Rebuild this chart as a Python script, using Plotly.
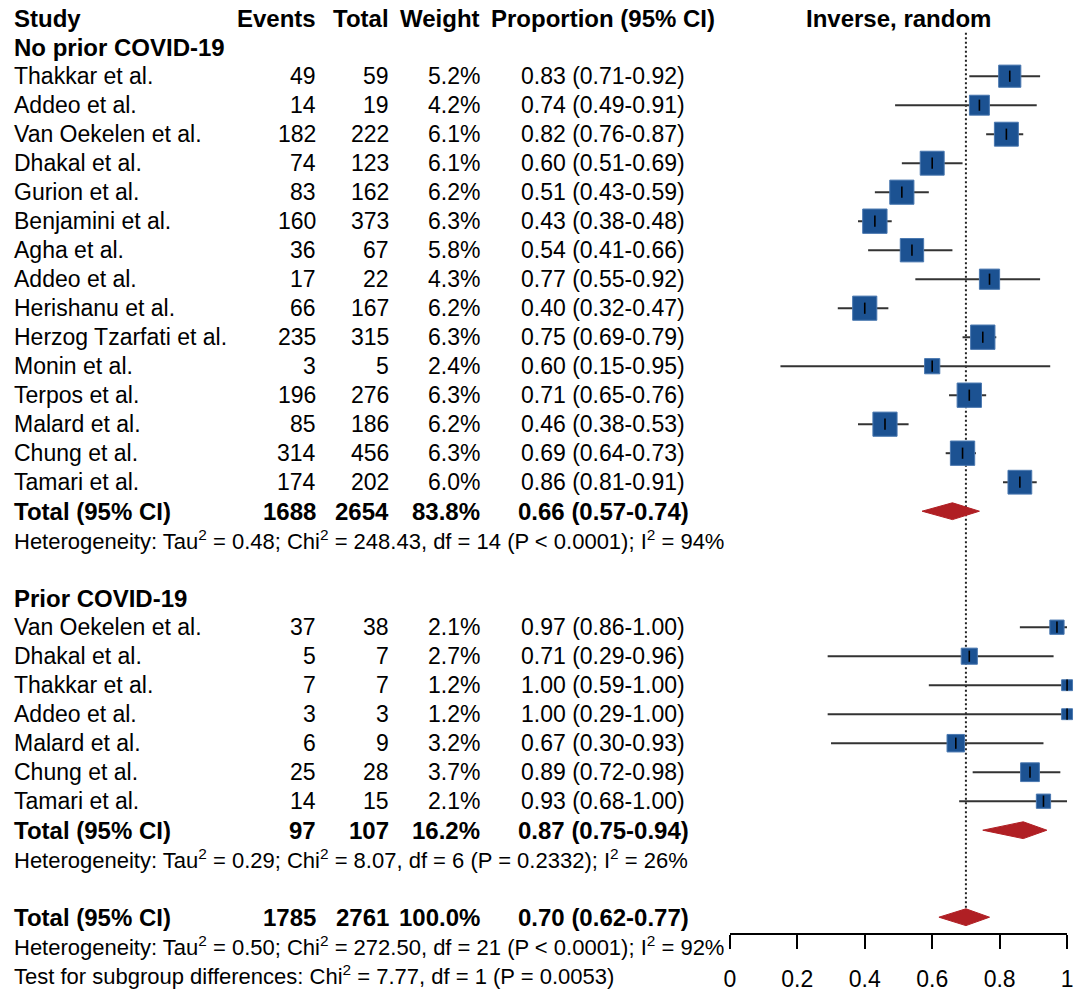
import plotly.graph_objects as go

W, H = 1080, 996

# ---------------- data ----------------
g1_name = "No prior COVID-19"
g1_studies = ["Thakkar et al.", "Addeo et al.", "Van Oekelen et al.", "Dhakal et al.",
              "Gurion et al.", "Benjamini et al.", "Agha et al.", "Addeo et al.",
              "Herishanu et al.", "Herzog Tzarfati et al.", "Monin et al.", "Terpos et al.",
              "Malard et al.", "Chung et al.", "Tamari et al."]
g1_events = [49, 14, 182, 74, 83, 160, 36, 17, 66, 235, 3, 196, 85, 314, 174]
g1_totals = [59, 19, 222, 123, 162, 373, 67, 22, 167, 315, 5, 276, 186, 456, 202]
g1_weight = [5.2, 4.2, 6.1, 6.1, 6.2, 6.3, 5.8, 4.3, 6.2, 6.3, 2.4, 6.3, 6.2, 6.3, 6.0]
g1_prop = [0.83, 0.74, 0.82, 0.60, 0.51, 0.43, 0.54, 0.77, 0.40, 0.75, 0.60, 0.71, 0.46, 0.69, 0.86]
g1_lo = [0.71, 0.49, 0.76, 0.51, 0.43, 0.38, 0.41, 0.55, 0.32, 0.69, 0.15, 0.65, 0.38, 0.64, 0.81]
g1_hi = [0.92, 0.91, 0.87, 0.69, 0.59, 0.48, 0.66, 0.92, 0.47, 0.79, 0.95, 0.76, 0.53, 0.73, 0.91]
g1_summary = [1688, 2654, 83.8, 0.66, 0.57, 0.74]
g1_het = "Heterogeneity: Tau<sup>2</sup> = 0.48; Chi<sup>2</sup> = 248.43, df = 14 (P < 0.0001); I<sup>2</sup> = 94%"

g2_name = "Prior COVID-19"
g2_studies = ["Van Oekelen et al.", "Dhakal et al.", "Thakkar et al.", "Addeo et al.",
              "Malard et al.", "Chung et al.", "Tamari et al."]
g2_events = [37, 5, 7, 3, 6, 25, 14]
g2_totals = [38, 7, 7, 3, 9, 28, 15]
g2_weight = [2.1, 2.7, 1.2, 1.2, 3.2, 3.7, 2.1]
g2_prop = [0.97, 0.71, 1.00, 1.00, 0.67, 0.89, 0.93]
g2_lo = [0.86, 0.29, 0.59, 0.29, 0.30, 0.72, 0.68]
g2_hi = [1.00, 0.96, 1.00, 1.00, 0.93, 0.98, 1.00]
g2_summary = [97, 107, 16.2, 0.87, 0.75, 0.94]
g2_het = "Heterogeneity: Tau<sup>2</sup> = 0.29; Chi<sup>2</sup> = 8.07, df = 6 (P = 0.2332); I<sup>2</sup> = 26%"

overall_summary = [1785, 2761, 100.0, 0.70, 0.62, 0.77]
overall_het = "Heterogeneity: Tau<sup>2</sup> = 0.50; Chi<sup>2</sup> = 272.50, df = 21 (P < 0.0001); I<sup>2</sup> = 92%"
subgroup_test = "Test for subgroup differences: Chi<sup>2</sup> = 7.77, df = 1 (P = 0.0053)"

headers = ["Study", "Events", "Total", "Weight", "Proportion (95% CI)", "Inverse, random"]
tick_vals = [0, 0.2, 0.4, 0.6, 0.8, 1]
tick_text = ["0", "0.2", "0.4", "0.6", "0.8", "1"]

# ---------------- layout helpers ----------------
FONT = "Liberation Sans, Arial, Helvetica, sans-serif"
FS = 23
FS_BOLD = 24
FS_SMALL = 22
ROW0, ROWH = 18.2, 29.0
BLUE = "#1c5292"
RED = "#b01f24"

X_STUDY, X_EV, X_TOT, X_WT, X_PROP = 6, 315, 389, 481, 604
AX_L, AX_R = 732, 1073

annotations = []


def txt(xpx, r, s, anchor="left", size=FS, bold=False):
    if bold:
        s = "<b>" + s + "</b>"
        size = FS_BOLD
    annotations.append(dict(x=xpx / W, xref="paper", y=r, yref="y", text=s, showarrow=False,
                            xanchor=anchor, yanchor="middle",
                            font=dict(family=FONT, size=size, color="black")))


def prop_str(p, lo, hi):
    return f"{p:.2f} ({lo:.2f}-{hi:.2f})"


# header
txt(X_STUDY, 0, headers[0], bold=True)
txt(X_EV, 0, headers[1], "right", bold=True)
txt(X_TOT, 0, headers[2], "right", bold=True)
txt(X_WT, 0, headers[3], "right", bold=True)
txt(X_PROP, 0, headers[4], "center", bold=True)
txt((AX_L + AX_R) / 2, 0, headers[5], "center", bold=True)

sq_x, sq_y, sq_s = [], [], []
ci_x, ci_y = [], []
diamonds = []


def add_total(r, summary):
    txt(X_STUDY, r, "Total (95% CI)", bold=True)
    txt(X_EV, r, str(summary[0]), "right", bold=True)
    txt(X_TOT, r, str(summary[1]), "right", bold=True)
    txt(X_WT, r, f"{summary[2]:.1f}%", "right", bold=True)
    txt(X_PROP, r, prop_str(summary[3], summary[4], summary[5]), "center", bold=True)
    diamonds.append((r, summary[3], summary[4], summary[5]))


def add_group(start, name, studies, ev, tot, wt, prop, lo, hi, summary, het):
    txt(X_STUDY, start, name, bold=True)
    for i in range(len(studies)):
        r = start + 1 + i
        txt(X_STUDY, r, studies[i])
        txt(X_EV, r, str(ev[i]), "right")
        txt(X_TOT, r, str(tot[i]), "right")
        txt(X_WT, r, f"{wt[i]:.1f}%", "right")
        txt(X_PROP, r, prop_str(prop[i], lo[i], hi[i]), "center")
        sq_x.append(prop[i]); sq_y.append(r); sq_s.append(9.5 * wt[i] ** 0.5 + 0.5)
        ci_x.extend([lo[i], hi[i], None]); ci_y.extend([r, r, None])
    r = start + 1 + len(studies)
    add_total(r, summary)
    txt(X_STUDY, r + 1, het, size=FS_SMALL)
    return r


r1 = add_group(1, g1_name, g1_studies, g1_events, g1_totals, g1_weight, g1_prop, g1_lo, g1_hi,
               g1_summary, g1_het)
r2 = add_group(r1 + 3, g2_name, g2_studies, g2_events, g2_totals, g2_weight, g2_prop, g2_lo, g2_hi,
               g2_summary, g2_het)
r3 = r2 + 3
add_total(r3, overall_summary)
txt(X_STUDY, r3 + 1, overall_het, size=FS_SMALL)
txt(X_STUDY, r3 + 2, subgroup_test, size=FS_SMALL)

# ---------------- traces ----------------
fig = go.Figure()
DH = 0.29  # diamond half height in rows

# reference (dotted) line at overall estimate
fig.add_trace(go.Scatter(x=[overall_summary[3], overall_summary[3]], y=[0.5, r3 - DH],
                         mode="lines", line=dict(color="#222222", width=2, dash="2px,2.5px"),
                         hoverinfo="skip"))
# CI lines
fig.add_trace(go.Scatter(x=ci_x, y=ci_y, mode="lines", line=dict(color="#333333", width=2),
                         cliponaxis=False, hoverinfo="skip"))
# squares
fig.add_trace(go.Scatter(x=sq_x, y=sq_y, mode="markers", cliponaxis=False,
                         marker=dict(symbol="square", size=sq_s, color=BLUE, opacity=1,
                                     line=dict(color="#4a78b0", width=1))))
# point estimate ticks
fig.add_trace(go.Scatter(x=sq_x, y=sq_y, mode="markers", cliponaxis=False,
                         marker=dict(symbol="line-ns", size=8, opacity=1,
                                     line=dict(color="black", width=1.6))))
# diamonds
for (r, p, lo, hi) in diamonds:
    fig.add_trace(go.Scatter(x=[lo, p, hi, p, lo], y=[r, r - DH, r, r + DH, r],
                             mode="lines", fill="toself", fillcolor=RED,
                             line=dict(color=RED, width=1), hoverinfo="skip"))

r_top = -ROW0 / ROWH
r_bot = (H - ROW0) / ROWH

fig.update_layout(
    width=W, height=H, margin=dict(l=0, r=0, t=0, b=0), autosize=False,
    paper_bgcolor="white", plot_bgcolor="white", showlegend=False,
    font=dict(family=FONT, size=FS, color="black"),
    annotations=annotations,
    xaxis=dict(domain=[AX_L / W, AX_R / W], range=[0, 1], anchor="free",
               position=1 - 934 / H, showline=True, linecolor="black", linewidth=1.8,
               ticks="outside", ticklen=14, tickwidth=1.8, tickcolor="black",
               tickvals=tick_vals, ticktext=tick_text, ticklabelstandoff=10,
               ticklabeloverflow="allow",
               tickfont=dict(family=FONT, size=FS, color="black"),
               showgrid=False, zeroline=False, fixedrange=True),
    yaxis=dict(domain=[0, 1], range=[r_bot, r_top], visible=False, fixedrange=True),
)

fig.write_html("out.html", config={"displayModeBar": False, "responsive": False},
               post_script="document.body.style.margin='0';document.body.style.overflow='hidden';")
